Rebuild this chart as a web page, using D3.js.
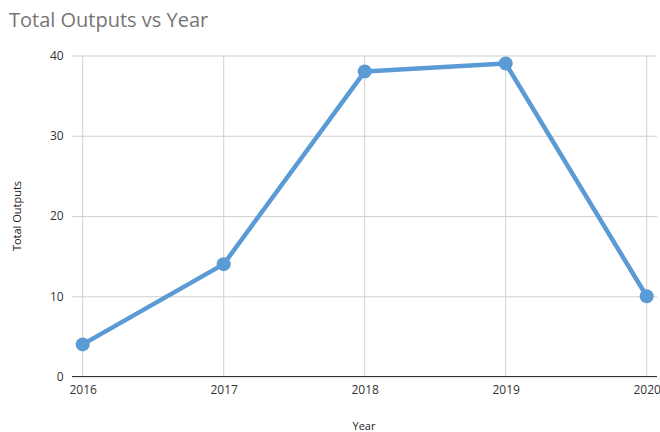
<!DOCTYPE html>
<html>
<head>
<meta charset="utf-8">
<script src="https://cdn.jsdelivr.net/npm/d3@7"></script>
<style>
    body { margin: 0; background: #fff; }
    text { font-family: "Open Sans", sans-serif; }
</style>
</head>
<body>
<svg id="chart" width="660" height="432"></svg>
<script>
var years = [2016, 2017, 2018, 2019, 2020];
var outputs = [4, 14, 38, 39, 10];
var yTicks = [0, 10, 20, 30, 40];

var svg = d3.select('#chart');
var plotLeft = 82.7, plotRight = 646.7, plotTop = 55.5, plotBottom = 376.5;
var gridLeft = 72, gridRight = 657;

var x = d3.scaleLinear().domain([2016, 2020]).range([plotLeft, plotRight]);
var y = d3.scaleLinear().domain([0, 40]).range([plotBottom, plotTop]);

svg.append("text")
    .attr("x", 9)
    .attr("y", 27)
    .style("font-size", "20px")
    .style("fill", "#757575")
    .text("Total Outputs vs Year");

// horizontal grid
svg.append("g")
    .attr("transform", "translate(" + plotLeft + ",0)")
    .call(d3.axisLeft(y).tickValues(yTicks).tickSize(-(gridRight - plotLeft)).tickPadding(19))
    .call(function (g) {
        g.select(".domain").remove();
        g.selectAll(".tick line")
            .attr("x1", gridLeft - plotLeft)
            .attr("stroke", "#d0d0d0");
        g.selectAll(".tick text")
            .style("font-size", "12px")
            .style("fill", "#333");
    });

// vertical grid
svg.append("g")
    .selectAll("line")
    .data(years)
    .enter().append("line")
    .attr("x1", function (d) { return x(d); })
    .attr("x2", function (d) { return x(d); })
    .attr("y1", plotTop)
    .attr("y2", plotBottom)
    .attr("stroke", "#d0d0d0");

// x axis
svg.append("g")
    .attr("transform", "translate(0," + plotBottom + ")")
    .call(d3.axisBottom(x).tickValues(years).tickFormat(d3.format("d")).tickSize(0).tickPadding(9))
    .call(function (g) {
        g.select(".domain").remove();
        g.selectAll(".tick text")
            .style("font-size", "12px")
            .style("fill", "#333");
    });

svg.append("line")
    .attr("x1", gridLeft).attr("x2", gridRight)
    .attr("y1", plotBottom).attr("y2", plotBottom)
    .attr("stroke", "#333")
    .attr("stroke-width", 1.2);

svg.append("text")
    .attr("x", 364)
    .attr("y", 430)
    .attr("text-anchor", "middle")
    .style("font-size", "11px")
    .style("fill", "#222")
    .text("Year");

svg.append("text")
    .attr("transform", "translate(21," + (plotTop + plotBottom) / 2 + ") rotate(-90)")
    .attr("text-anchor", "middle")
    .style("font-size", "11px")
    .style("fill", "#222")
    .text("Total Outputs");

var line = d3.line()
    .x(function (d, i) { return x(years[i]); })
    .y(function (d) { return y(d); });

svg.append("path")
    .datum(outputs)
    .attr("d", line)
    .attr("fill", "none")
    .attr("stroke", "#5b9bd5")
    .attr("stroke-width", 4.5)
    .attr("stroke-linejoin", "round");

svg.append("g")
    .selectAll("circle")
    .data(outputs)
    .enter().append("circle")
    .attr("cx", function (d, i) { return x(years[i]); })
    .attr("cy", function (d) { return y(d); })
    .attr("r", 7)
    .attr("fill", "#5b9bd5");
</script>
</body>
</html>
